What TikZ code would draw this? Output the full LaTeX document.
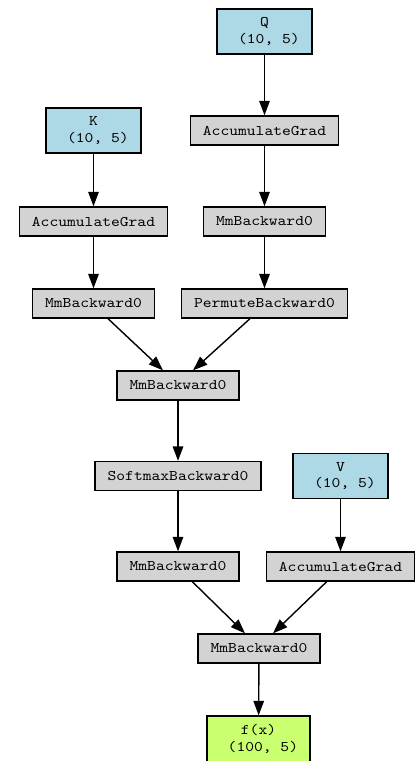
\documentclass[tikz,border=0pt]{standalone}
\usepackage{fontspec}
\setmonofont{lmmono10-regular}[Extension=.otf, FakeStretch=1.14]
\usetikzlibrary{arrows.meta,calc}
\definecolor{lightgrey}{RGB}{211,211,211}
\definecolor{lightblue}{RGB}{173,216,230}
\definecolor{olivegreen}{RGB}{202,255,112}
\tikzset{
  basebox/.style={draw=black, line width=1.3pt, font=\ttfamily\fontsize{14.7}{16.5}\selectfont, align=center, inner sep=0pt},
  opbox/.style={basebox, fill=lightgrey, minimum height=29pt, inner xsep=12.5pt},
  leafbox/.style={basebox, fill=lightblue, minimum width=95pt, minimum height=45pt},
  outbox/.style={basebox, fill=olivegreen, minimum width=103pt, minimum height=46pt},
  conn/.style={line width=1.4pt, -{Triangle[length=14.5pt,width=10.5pt]}}
}
\begin{document}
\begin{tikzpicture}[x=1pt,y=-1pt]
\useasboundingbox (0,0) rectangle (419,761);
\node[leafbox] (Q) at (264.5,31.5) {Q\\\hphantom{0}(10, 5)};
\node[leafbox] (K) at (93.5,130.5) {K\\\hphantom{0}(10, 5)};
\node[opbox] (accQ) at (264.5,130.5) {AccumulateGrad};
\node[opbox] (accK) at (93.5,221.5) {AccumulateGrad};
\node[opbox] (mmQ) at (264.5,221.5) {MmBackward0};
\node[opbox] (mmK) at (93.5,303.5) {MmBackward0};
\node[opbox] (perm) at (264.5,303.5) {PermuteBackward0};
\node[opbox] (mmQK) at (178,385.5) {MmBackward0};
\node[opbox] (soft) at (178,476) {SoftmaxBackward0};
\node[leafbox] (V) at (340.5,476) {V\\\hphantom{0}(10, 5)};
\node[opbox] (mmS) at (178,566.5) {MmBackward0};
\node[opbox] (accV) at (340.5,566.5) {AccumulateGrad};
\node[opbox] (mmOut) at (259,648.5) {MmBackward0};
\node[outbox] (fx) at (258.5,739) {f(x)\\\hphantom{0}(100, 5)};

\draw[conn] (Q) -- (accQ);
\draw[conn] (accQ) -- (mmQ);
\draw[conn] (mmQ) -- (perm);
\draw[conn] (K) -- (accK);
\draw[conn] (accK) -- (mmK);
\draw[conn] ($(mmK.south)+(14.5,0)$) -- ($(mmQK.north)+(-15,0)$);
\draw[conn] ($(perm.south)+(-14.5,0)$) -- ($(mmQK.north)+(15,0)$);
\draw[conn] (mmQK) -- (soft);
\draw[conn] (soft) -- (mmS);
\draw[conn] (V) -- (accV);
\draw[conn] ($(mmS.south)+(14.3,0)$) -- ($(mmOut.north)+(-14,0)$);
\draw[conn] ($(accV.south)+(-13.8,0)$) -- ($(mmOut.north)+(14,0)$);
\draw[conn] (mmOut) -- (fx);
\end{tikzpicture}
\end{document}
